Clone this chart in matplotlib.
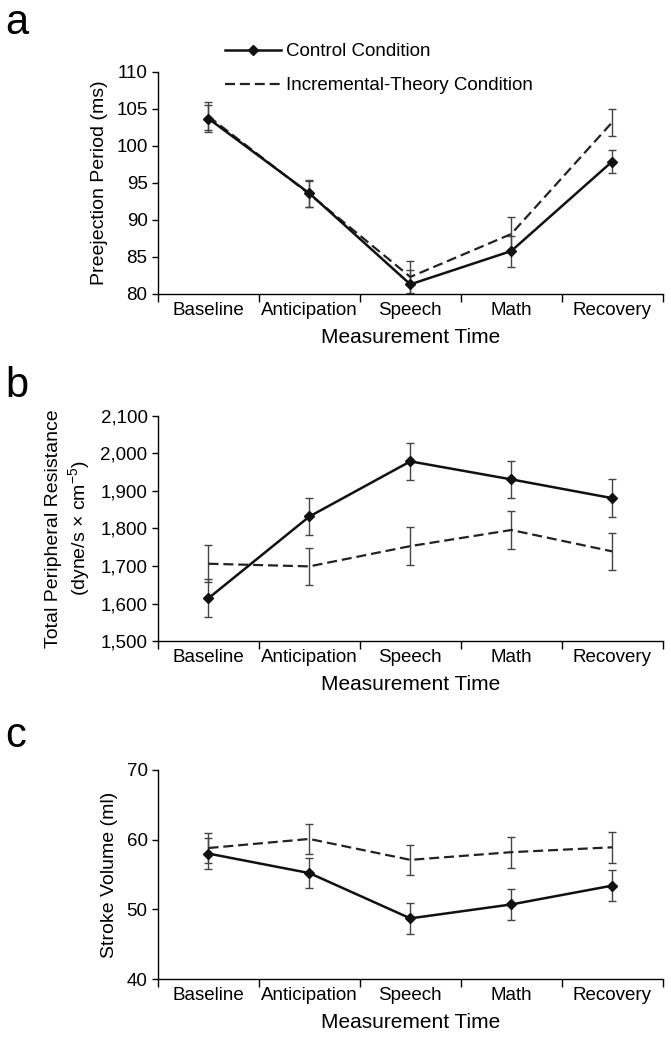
"""
三联图：控制组 vs 增量理论组的生理指标（PEP, TPR, SV）
"""

import matplotlib
matplotlib.use('Agg')
import matplotlib.pyplot as plt
from matplotlib.lines import Line2D
from matplotlib.ticker import FixedLocator, FuncFormatter, NullFormatter
import numpy as np

plt.rcParams['font.family'] = ['Liberation Sans Narrow', 'Liberation Sans', 'DejaVu Sans']
plt.rcParams['mathtext.fontset'] = 'custom'
plt.rcParams['mathtext.rm'] = 'Liberation Sans'
plt.rcParams['mathtext.default'] = 'regular'

# 数据
times = ['Baseline', 'Anticipation', 'Speech', 'Math', 'Recovery']

pep_control = [103.7, 93.6, 81.3, 85.8, 97.9]
pep_control_se = [1.8, 1.8, 1.9, 2.1, 1.6]
pep_incr = [104.0, 93.5, 82.3, 88.1, 103.2]
pep_incr_se = [1.9, 1.8, 2.2, 2.3, 1.8]

tpr_control = [1614, 1832, 1979, 1931, 1881]
tpr_control_se = [50, 50, 50, 50, 50]
tpr_incr = [1706, 1699, 1753, 1796, 1739]
tpr_incr_se = [50, 50, 50, 50, 50]

sv_control = [58.0, 55.2, 48.7, 50.7, 53.4]
sv_control_se = [2.2, 2.2, 2.2, 2.2, 2.2]
sv_incr = [58.8, 60.1, 57.1, 58.2, 58.9]
sv_incr_se = [2.2, 2.2, 2.2, 2.2, 2.2]

fig = plt.figure(figsize=(6.71, 10.51), dpi=100)

x = np.arange(len(times))
DASH = (0, (4.5, 2.2))


def draw_panel(rect, ctrl, ctrl_se, incr, incr_se, ylim, yticks, ylabel, fmt=None):
    ax = fig.add_axes(rect)
    ax.errorbar(x, incr, yerr=incr_se, color='#222222', lw=1.6, ls=DASH,
                capsize=3, elinewidth=1.0, capthick=1.0, ecolor='#444444')
    ax.errorbar(x, ctrl, yerr=ctrl_se, color='#111111', lw=1.8, marker='D', ms=5,
                capsize=3, elinewidth=1.0, capthick=1.0, ecolor='#444444')
    ax.set_xlim(-0.5, len(times) - 0.5)
    ax.set_ylim(*ylim)
    ax.set_yticks(yticks)
    if fmt is not None:
        ax.yaxis.set_major_formatter(FuncFormatter(fmt))
    # 类别标签在中间，刻度线在边界
    ax.set_xticks(x)
    ax.set_xticklabels(times)
    ax.tick_params(axis='x', which='major', length=0, labelsize=13.5, pad=6)
    ax.xaxis.set_minor_locator(FixedLocator(np.arange(-0.5, len(times), 1.0)))
    ax.xaxis.set_minor_formatter(NullFormatter())
    ax.tick_params(axis='x', which='minor', length=6, width=1.0)
    ax.tick_params(axis='y', length=4, width=1.0, labelsize=13.5)
    for s in ['top', 'right']:
        ax.spines[s].set_visible(False)
    ax.spines['left'].set_linewidth(1.0)
    ax.spines['bottom'].set_linewidth(1.0)
    ax.set_xlabel('Measurement Time', fontsize=15, labelpad=6)
    ax.set_ylabel(ylabel, fontsize=14, labelpad=6)
    return ax


ax_a = draw_panel([0.2355, 0.7203, 0.752, 0.2112], pep_control, pep_control_se,
                  pep_incr, pep_incr_se, (80, 110), [80, 85, 90, 95, 100, 105, 110],
                  'Preejection Period (ms)')

ax_b = draw_panel([0.2355, 0.3901, 0.752, 0.2141], tpr_control, tpr_control_se,
                  tpr_incr, tpr_incr_se, (1500, 2100), np.arange(1500, 2101, 100),
                  'Total Peripheral Resistance\n(dyne/s × cm$^{-5}$)',
                  fmt=lambda v, p: f'{v:,.0f}')

ax_c = draw_panel([0.2355, 0.0685, 0.752, 0.1989], sv_control, sv_control_se,
                  sv_incr, sv_incr_se, (40, 70), [40, 50, 60, 70],
                  'Stroke Volume (ml)')

# 图例（只画线，不画误差线）
h_ctrl = Line2D([], [], color='#111111', lw=1.8, marker='D', ms=5)
h_incr = Line2D([], [], color='#222222', lw=1.6, ls=DASH)
fig.legend([h_ctrl, h_incr], ['Control Condition', 'Incremental-Theory Condition'],
           loc='upper left', bbox_to_anchor=(0.335, 0.959), frameon=False,
           fontsize=13.5, handlelength=3.0, handletextpad=0.25, labelspacing=0.9,
           borderpad=0, borderaxespad=0)

# 面板字母
for letter, yy in [('a', 0.978), ('b', 0.633), ('c', 0.300)]:
    fig.text(0.008, yy, letter, fontsize=30, ha='left', va='center')

fig.savefig('out.png', dpi=100, facecolor='white')
